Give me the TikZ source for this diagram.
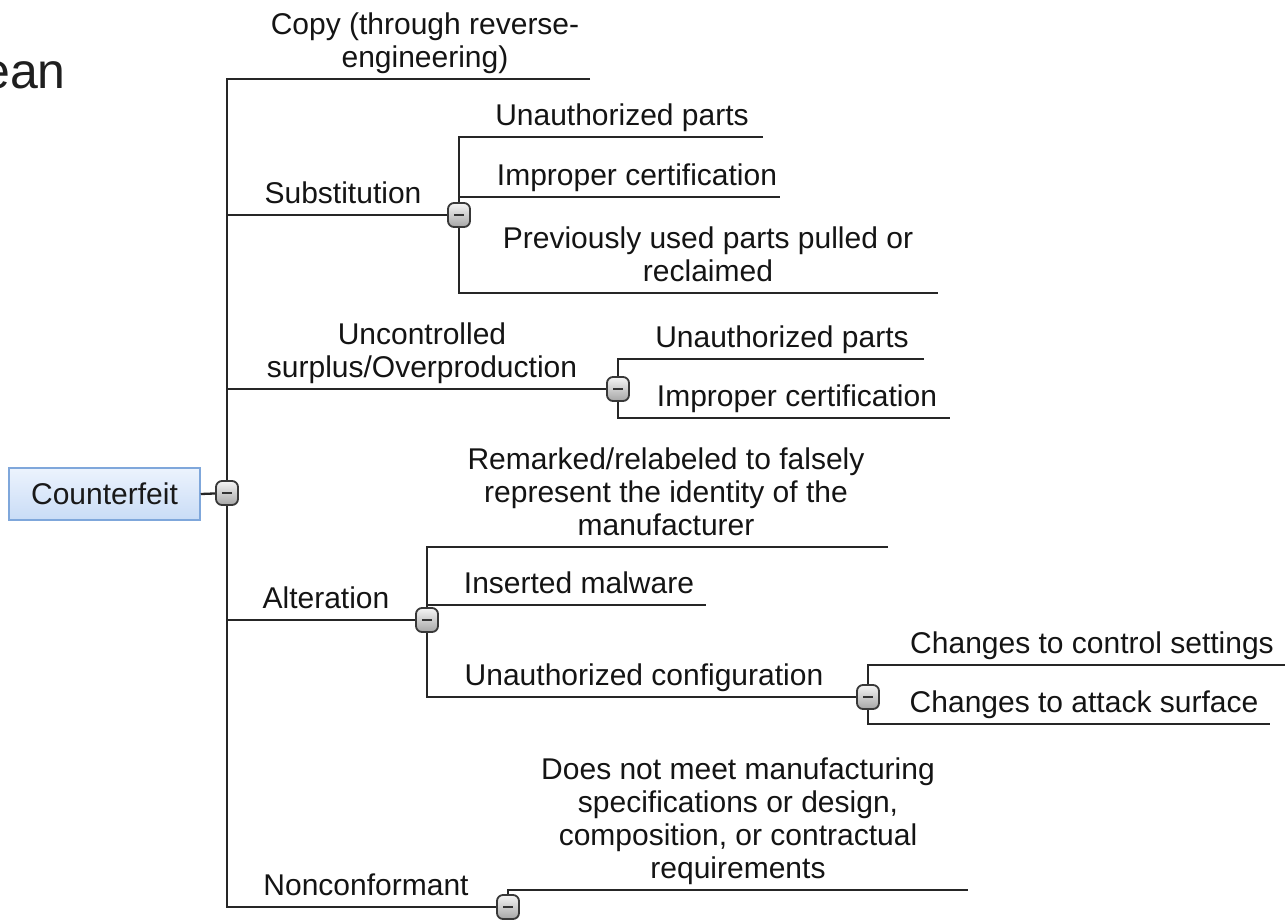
\documentclass[tikz,border=0pt]{standalone}
\usepackage{fontspec}
\setmainfont{Liberation Sans}
\begin{document}
\begin{tikzpicture}[x=1pt,y=-1pt,
  lbl/.style={inner sep=0pt, text depth=0pt, anchor=south, align=center,
              text=black!92, font=\fontsize{30}{33}\selectfont},
  branch/.style={draw=black!85, line width=2.3pt},
  rootbox/.style={draw=rootedge, line width=1.5pt, top color=roottop,
              bottom color=rootbot, minimum width=191pt, minimum height=52pt,
              inner sep=0pt, text=black!90, font=\fontsize{30}{33}\selectfont},
  btn/.style={draw=black!78, line width=1.8pt, rounded corners=6pt,
              top color=white!96!black, bottom color=black!35,
              minimum width=22pt, minimum height=24pt, inner sep=0pt,
              path picture={\draw[black!80, line width=2.6pt]
                ([xshift=-5pt]path picture bounding box.center) --
                ([xshift=5pt]path picture bounding box.center);}}
]
\definecolor{rootedge}{HTML}{7FA7DB}
\definecolor{roottop}{HTML}{ECF3FD}
\definecolor{rootbot}{HTML}{C9DCF6}
\useasboundingbox (0,0) rectangle (1285,919);

% clipped heading word at the top left
\node[anchor=base east, inner sep=0pt, text=black!88,
      font=\fontsize{50}{55}\selectfont] (head) at (66,88) {ean};

% ---- junction points ----
\coordinate (c0)   at (227,493);
\coordinate (ttop) at (227,79);
\coordinate (tbot) at (227,907);
\coordinate (copyE) at (590,79);

\coordinate (tsub) at (227,215);
\coordinate (csub) at (459,215);
\coordinate (sub1S) at (459,137); \coordinate (sub1E) at (763,137);
\coordinate (sub2S) at (459,197); \coordinate (sub2E) at (780,197);
\coordinate (sub3S) at (459,293); \coordinate (sub3E) at (938,293);

\coordinate (tunc) at (227,389);
\coordinate (cunc) at (618,389);
\coordinate (unc1S) at (618,359); \coordinate (unc1E) at (924,359);
\coordinate (unc2S) at (618,418); \coordinate (unc2E) at (950,418);

\coordinate (talt) at (227,620);
\coordinate (calt) at (427,620);
\coordinate (alt1S) at (427,547); \coordinate (alt1E) at (888,547);
\coordinate (alt2S) at (427,605); \coordinate (alt2E) at (706,605);
\coordinate (alt3S) at (427,697);
\coordinate (ccfg) at (868,697);
\coordinate (cfg1S) at (868,665); \coordinate (cfg1E) at (1285,665);
\coordinate (cfg2S) at (868,724); \coordinate (cfg2E) at (1270,724);

\coordinate (cnc) at (508,907);
\coordinate (nc1S) at (508,890); \coordinate (nc1E) at (968,890);

% ---- root ----
\node[rootbox] (root) at (104.5,494) {Counterfeit};

% ---- connectors ----
\draw[branch] (root.east) -- (c0);
\draw[branch] (copyE) -- (ttop) -- (tbot) -- (cnc);
\draw[branch] (tsub) -- (csub);
\draw[branch] (sub1E) -- (sub1S) -- (sub3S) -- (sub3E);
\draw[branch] (sub2S) -- (sub2E);
\draw[branch] (tunc) -- (cunc);
\draw[branch] (unc1E) -- (unc1S) -- (unc2S) -- (unc2E);
\draw[branch] (talt) -- (calt);
\draw[branch] (alt1E) -- (alt1S) -- (alt3S) -- (ccfg);
\draw[branch] (alt2S) -- (alt2E);
\draw[branch] (cfg1E) -- (cfg1S) -- (cfg2S) -- (cfg2E);
\draw[branch] (cnc) -- (nc1S) -- (nc1E);

% ---- collapse buttons ----
\node[btn] (b0)   at (c0)   {};
\node[btn] (bsub) at (csub) {};
\node[btn] (bunc) at (cunc) {};
\node[btn] (balt) at (calt) {};
\node[btn] (bcfg) at (ccfg) {};
\node[btn] (bnc)  at (cnc)  {};

% ---- labels ----
\node[lbl] (copy) at (425,68) {Copy (through reverse-\\engineering)};
\node[lbl] (sub)  at (343,204) {Substitution};
\node[lbl] (sub1) at (622,126) {Unauthorized parts};
\node[lbl] (sub2) at (637,186) {Improper certification};
\node[lbl] (sub3) at (708,282) {Previously used parts pulled or\\reclaimed};
\node[lbl] (unc)  at (422,378) {Uncontrolled\\surplus/Overproduction};
\node[lbl] (unc1) at (782,348) {Unauthorized parts};
\node[lbl] (unc2) at (797,407) {Improper certification};
\node[lbl] (alt)  at (326,609) {Alteration};
\node[lbl] (alt1) at (666,536) {Remarked/relabeled to falsely\\represent the identity of the\\manufacturer};
\node[lbl] (alt2) at (579,594) {Inserted malware};
\node[lbl] (alt3) at (644,686) {Unauthorized configuration};
\node[lbl] (cfg1) at (1092,654) {Changes to control settings};
\node[lbl] (cfg2) at (1084,713) {Changes to attack surface};
\node[lbl] (nc)   at (366,896) {Nonconformant};
\node[lbl] (nc1)  at (738,879) {Does not meet manufacturing\\specifications or design,\\composition, or contractual\\requirements};
\end{tikzpicture}
\end{document}
